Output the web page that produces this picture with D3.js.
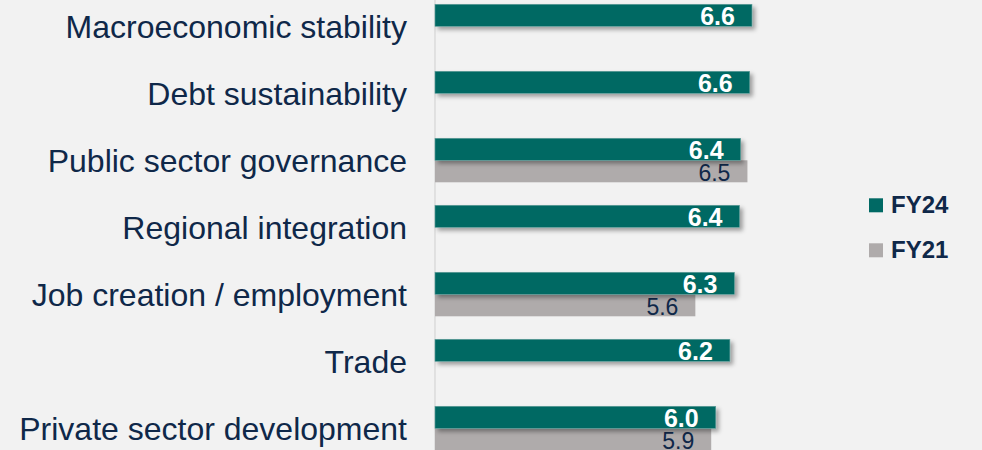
<!DOCTYPE html>
<html>
<head>
<meta charset="utf-8">
<script src="https://cdn.jsdelivr.net/npm/d3@7"></script>
<style>
  body { margin: 0; background: #f2f2f2; }
  svg { display: block; font-family: "Liberation Sans", Arial, sans-serif; }
</style>
</head>
<body>
<svg width="982" height="450"></svg>
<script>
const categories = ["Macroeconomic stability", "Debt sustainability", "Public sector governance",
    "Regional integration", "Job creation / employment", "Trade", "Private sector development"];
const seriesNames = ["FY24", "FY21"];
const fy24 = [6.60, 6.56, 6.40, 6.38, 6.29, 6.21, 5.96];
const fy21 = [null, null, 6.52, null, 5.60, null, 5.88];

const svg = d3.select("svg"),
    width = +svg.attr("width"),
    height = +svg.attr("height");

const colors = { FY24: "#006964", FY21: "#afabab" };
const navy = "#0f2849";

// 1 - 7 score scale
const x = d3.scaleLinear().domain([1, 7]).range([435, 774.6]);

const y = d3.scaleBand()
    .domain(categories)
    .range([-7.2, 461.8])
    .paddingInner(23 / 67)
    .paddingOuter(23 / 134);

const ySub = d3.scaleBand().domain(seriesNames).range([0, y.bandwidth()]);

const fmt = d3.format(".1f");

// drop shadow for the FY24 bars
const defs = svg.append("defs");
defs.append("filter")
    .attr("id", "shadow")
    .attr("x", "-5%").attr("y", "-30%")
    .attr("width", "115%").attr("height", "180%")
    .append("feDropShadow")
    .attr("dx", 3).attr("dy", 3)
    .attr("stdDeviation", 2)
    .attr("flood-color", "#000")
    .attr("flood-opacity", 0.35);

// axis line
svg.append("line")
    .attr("x1", x(1)).attr("x2", x(1))
    .attr("y1", 0).attr("y2", height)
    .attr("stroke", "#cfcfcf")
    .attr("stroke-width", 1);

const rows = categories.map((c, i) => ({ cat: c, FY24: fy24[i], FY21: fy21[i] }));

// category labels
svg.append("g")
    .selectAll("text")
    .data(categories)
    .join("text")
    .attr("x", 407)
    .attr("y", d => y(d) + y.bandwidth() / 2)
    .attr("dy", "0.35em")
    .attr("text-anchor", "end")
    .style("font-size", "32px")
    .style("fill", navy)
    .text(d => d);

// FY21 bars first, FY24 on top
["FY21", "FY24"].forEach(s => {
    const data = rows.filter(r => r[s] != null);
    const g = svg.append("g");

    g.selectAll("rect")
        .data(data)
        .join("rect")
        .attr("x", x(1))
        .attr("y", d => y(d.cat) + ySub(s))
        .attr("width", d => x(d[s]) - x(1))
        .attr("height", ySub.bandwidth())
        .attr("fill", colors[s])
        .attr("stroke", s == "FY24" ? "#5f9e9a" : "none")
        .attr("stroke-width", 0.6)
        .attr("filter", s == "FY24" ? "url(#shadow)" : null);

    g.selectAll("text")
        .data(data)
        .join("text")
        .attr("x", d => x(d[s]) - 17)
        .attr("y", d => y(d.cat) + ySub(s) + ySub.bandwidth() - 1)
        .attr("text-anchor", "end")
        .style("font-size", s == "FY24" ? "25px" : "23px")
        .style("font-weight", s == "FY24" ? "bold" : "normal")
        .style("fill", s == "FY24" ? "#ffffff" : navy)
        .text(d => fmt(d[s]));
});

// legend
const legend = svg.append("g")
    .selectAll("g")
    .data(seriesNames)
    .join("g")
    .attr("transform", (d, i) => `translate(869, ${198.3 + i * 45})`);

legend.append("rect")
    .attr("width", 14)
    .attr("height", 14)
    .attr("fill", d => colors[d]);

legend.append("text")
    .attr("x", 22)
    .attr("y", 15)
    .style("font-size", "24px")
    .style("font-weight", "bold")
    .style("fill", navy)
    .text(d => d);
</script>
</body>
</html>
